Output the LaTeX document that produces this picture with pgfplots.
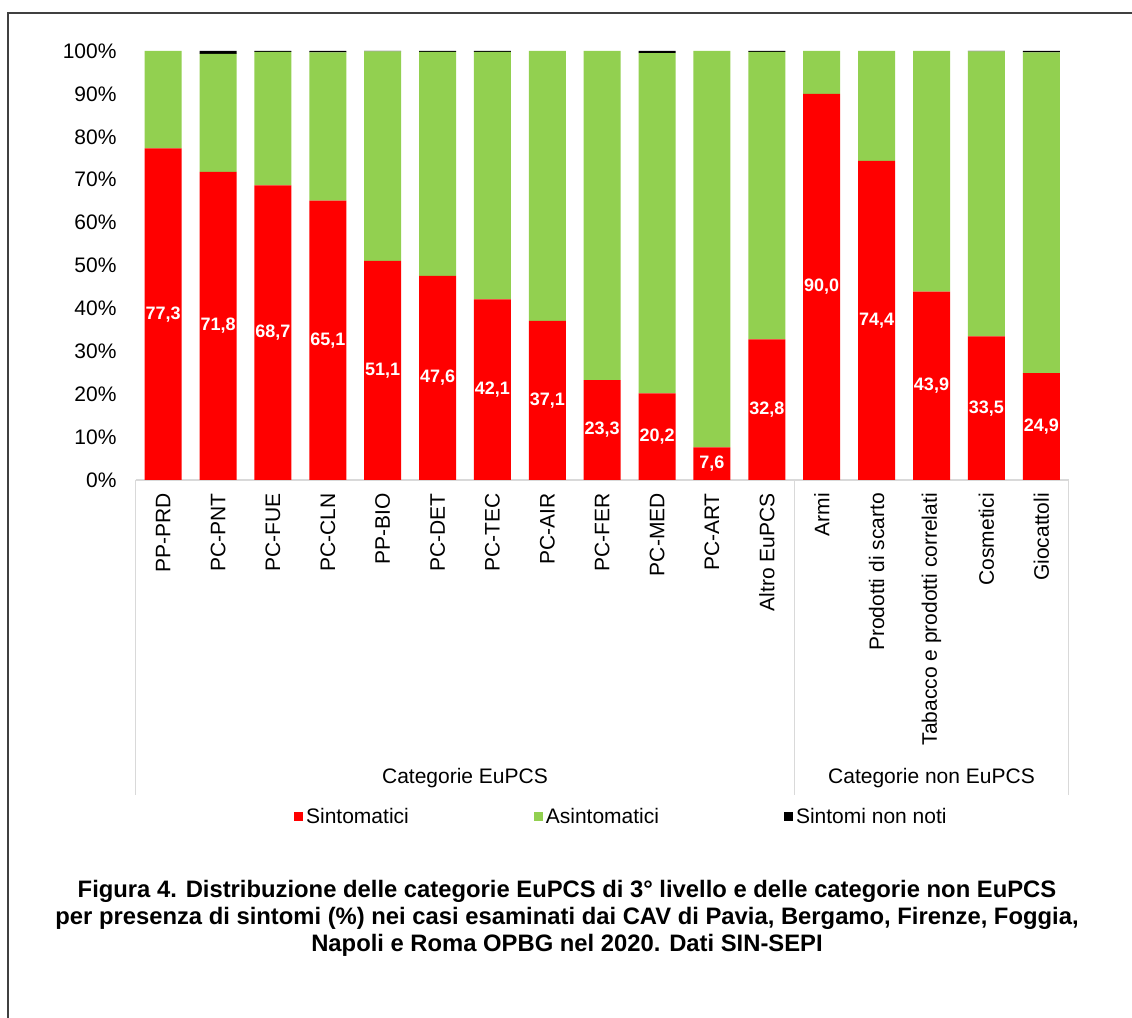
\documentclass[border=0pt]{standalone}
\usepackage{pgfplots}
\pgfplotsset{compat=1.18}
\usepackage{pgfplotstable}
\usepackage{fontspec}
\setmainfont{Liberation Sans}
\definecolor{cRed}{HTML}{FF0000}
\definecolor{cGreen}{HTML}{92D050}
\definecolor{cGrid}{HTML}{D9D9D9}
\definecolor{cFrame}{HTML}{404040}
\pgfplotstableread{
x s a u
0 77.3 22.7 0.0
1 71.8 27.5 0.7
2 68.7 31.1 0.2
3 65.1 34.6 0.3
4 51.1 48.8 0.1
5 47.6 52.2 0.2
6 42.1 57.7 0.2
7 37.1 62.9 0.0
8 23.3 76.7 0.0
9 20.2 79.3 0.5
10 7.6 92.4 0.0
11 32.8 67.0 0.2
12 90.0 10.0 0.0
13 74.4 25.6 0.0
14 43.9 56.1 0.0
15 33.5 66.4 0.1
16 24.9 74.8 0.3
}\data
\begin{document}
\begin{tikzpicture}[x=1pt,y=1pt]
\useasboundingbox (0,0) rectangle (1132,1017);
\draw[line width=1.3pt, cFrame] (8,-2) -- (8,1004) -- (1136,1004);
\begin{axis}[
  at={(135.7pt,537pt)}, anchor=south west,
  scale only axis, width=933pt, height=429pt,
  xmin=-0.5, xmax=16.5, ymin=0, ymax=100,
  ybar stacked, bar width=37pt,
  clip=false,
  axis x line*=bottom, axis y line*=left,
  x axis line style={draw=cGrid, line width=1.2pt, -},
  y axis line style={draw=none},
  major tick length=0pt,
  xtick={0,...,16},
  xticklabels={PP-PRD,PC-PNT,PC-FUE,PC-CLN,PP-BIO,PC-DET,PC-TEC,PC-AIR,PC-FER,PC-MED,PC-ART,Altro EuPCS,Armi,Prodotti di scarto,Tabacco e prodotti correlati,Cosmetici,Giocattoli},
  xticklabel style={rotate=90, anchor=east, inner sep=0pt},
  xticklabel shift=13pt,
  ytick={0,10,...,100},
  yticklabel={\pgfmathprintnumber{\tick}\%},
  yticklabel style={inner sep=0pt},
  yticklabel shift=19pt,
  tick label style={font=\fontsize{21}{25}\selectfont},
  /pgf/number format/assume math mode=true,
  legend style={at={(0.1696,-0.7855)}, anchor=west, draw=none, fill=none,
    legend columns=3, font=\fontsize{21}{25}\selectfont,
    inner sep=0pt, nodes={inner sep=3pt},
    /tikz/every even column/.append style={column sep=122pt}},
  legend image code/.code={\fill[#1] (0pt,-4.5pt) rectangle (9pt,4.5pt);},
]
\addplot[fill=cRed, draw=none] table[x=x, y=s]{\data};
\addlegendentry{Sintomatici}
\addplot[fill=cGreen, draw=none] table[x=x, y=a]{\data};
\addlegendentry{Asintomatici}
\addplot[fill=black, draw=none] table[x=x, y=u]{\data};
\addlegendentry{Sintomi non noti}
\draw[cGrid, line width=1.2pt] (axis cs:-0.5,0) -- ++(0pt,-315pt);
\draw[cGrid, line width=1.2pt] (axis cs:11.5,0) -- ++(0pt,-315pt);
\draw[cGrid, line width=1.2pt] (axis cs:16.5,0) -- ++(0pt,-315pt);
\node[font=\fontsize{21}{25}\selectfont] at (axis cs:5.5,0) [yshift=-298pt] {Categorie EuPCS};
\node[font=\fontsize{21}{25}\selectfont] at (axis cs:14,0) [yshift=-298pt] {Categorie non EuPCS};
\end{axis}
\begin{axis}[
  at={(135.7pt,537pt)}, anchor=south west,
  scale only axis, width=933pt, height=429pt,
  xmin=-0.5, xmax=16.5, ymin=0, ymax=100,
  clip=false, hide axis,
  /pgf/number format/assume math mode=true,
]
\addplot[draw=none, mark=none,
  nodes near coords={\pgfmathprintnumber[fixed,fixed zerofill,precision=1,use comma]{\pgfplotspointmeta}},
  point meta=explicit,
  every node near coord/.append style={font=\bfseries\fontsize{18}{20}\selectfont, text=white, anchor=center, inner sep=0pt},
] table[x=x, y expr=\thisrow{s}/2, meta=s]{\data};
\end{axis}
\node[align=center, font=\bfseries\fontsize{23.8}{27}\selectfont] at (567,99) {Figura 4. Distribuzione delle categorie EuPCS di 3° livello e delle categorie non EuPCS\\per presenza di sintomi (\%) nei casi esaminati dai CAV di Pavia, Bergamo, Firenze, Foggia,\\Napoli e Roma OPBG nel 2020. Dati SIN-SEPI};
\end{tikzpicture}
\end{document}
